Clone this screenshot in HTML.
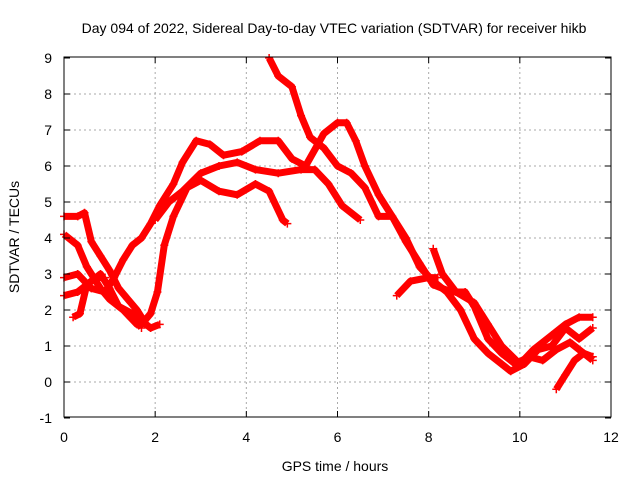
<!DOCTYPE html>
<html><head><meta charset="utf-8"><style>
body{margin:0;background:#fff;}
svg{display:block;font-family:"Liberation Sans",sans-serif;}
</style></head><body>
<svg id="chart" width="640" height="480">
<rect width="640" height="480" fill="#fff"/>
<text x="334" y="33" font-size="14" text-anchor="middle">Day 094 of 2022, Sidereal Day-to-day VTEC variation (SDTVAR) for receiver hikb</text>
<text transform="translate(19,237) rotate(-90)" font-size="14" text-anchor="middle">SDTVAR / TECUs</text>
<text x="335" y="471" font-size="14" text-anchor="middle">GPS time / hours</text>
<g id="grid"></g><g id="series"></g>
<rect x="64" y="57" width="547" height="360" fill="none" stroke="#000" stroke-width="1"/>
<g id="ticks"></g>
</svg>
<script>
const xTicks=[0,2,4,6,8,10,12];
const yTicks=[-1,0,1,2,3,4,5,6,7,8,9];
const s1=[[0,4.6],[0.3,4.6],[0.45,4.7],[0.6,3.9],[0.8,3.5],[1.0,3.1],[1.2,2.6],[1.4,2.3],[1.6,2.0],[1.8,1.6],[1.9,1.5],[2.1,1.6]];
const s2=[[0,4.1],[0.3,3.8],[0.5,3.2],[0.8,2.6],[1.0,2.3],[1.3,2.0],[1.6,1.6],[1.7,1.6],[1.9,1.9],[2.05,2.5],[2.2,3.8],[2.4,4.6],[2.7,5.4],[3.0,5.6],[3.4,5.3],[3.8,5.2],[4.2,5.5],[4.5,5.3],[4.8,4.5],[4.9,4.4]];
const s3=[[0,2.9],[0.3,3.0],[0.6,2.6],[0.9,2.5],[1.1,2.9],[1.3,3.4],[1.5,3.8],[1.7,4.0],[1.9,4.4],[2.1,4.9],[2.4,5.5],[2.6,6.1],[2.9,6.7],[3.2,6.6],[3.5,6.3],[3.9,6.4],[4.3,6.7],[4.7,6.7],[5.0,6.2],[5.3,6.0],[5.7,6.9],[6.0,7.2],[6.2,7.2],[6.4,6.7],[6.6,6.0],[6.9,5.2],[7.2,4.6],[7.5,3.9],[7.8,3.3],[8.1,2.7],[8.5,2.5],[8.8,2.5],[9.0,2.1],[9.3,1.2],[9.6,0.8],[9.9,0.5],[10.2,0.7],[10.5,0.6],[10.8,0.9],[11.1,1.1],[11.4,0.8],[11.6,0.6]];
const s4=[[4.5,9.0],[4.7,8.5],[5.0,8.2],[5.2,7.4],[5.4,6.8],[5.7,6.5],[6.0,6.0],[6.3,5.8],[6.6,5.4],[6.9,4.6],[7.2,4.6],[7.5,4.0],[7.8,3.2],[8.1,2.8],[8.4,2.5],[8.7,2.0],[9.0,1.2],[9.3,0.8],[9.6,0.5],[9.8,0.3],[10.1,0.5],[10.4,0.9],[10.7,1.0],[11.0,1.5],[11.3,1.2],[11.6,1.5]];
const s5=[[0,2.4],[0.3,2.5],[0.6,2.8],[0.8,3.0],[1.0,2.6],[1.2,2.1],[1.5,1.9],[1.7,1.5]];
const s6=[[0.2,1.8],[0.35,1.9],[0.5,2.7],[0.7,2.9],[0.9,2.9]];
const s7=[[2.0,4.5],[2.3,5.0],[2.6,5.3],[3.0,5.8],[3.4,6.0],[3.8,6.1],[4.2,5.9],[4.7,5.8],[5.2,5.9],[5.5,5.9],[5.8,5.5],[6.1,4.9],[6.5,4.5]];
const s8=[[7.3,2.4],[7.6,2.8],[8.0,2.9],[8.2,2.9]];
const s9=[[8.1,3.7],[8.3,3.0],[8.6,2.5],[9.0,2.2],[9.3,1.6],[9.6,1.0],[10.0,0.5],[10.3,0.9],[10.7,1.3],[11.0,1.6],[11.3,1.8],[11.6,1.8]];
const s10=[[10.8,-0.2],[11.0,0.2],[11.2,0.6],[11.4,0.8],[11.6,0.7]];
const allSeries=[s1,s2,s3,s4,s5,s6,s7,s8,s9,s10];
const X=h=>64+h*(547/12);
const Y=v=>382-v*36;
const NS="http://www.w3.org/2000/svg";
const grid=document.getElementById('grid'),ticks=document.getElementById('ticks'),ser=document.getElementById('series');
function mk(t,a,p){const e=document.createElementNS(NS,t);for(const k in a)e.setAttribute(k,a[k]);p.appendChild(e);return e;}
xTicks.forEach(t=>{const x=X(t);
 if(t>0&&t<12){const g=mk('line',{x1:x,y1:57,x2:x,y2:417,stroke:'#aaa','stroke-dasharray':'2,3'},grid);
 
 }
 mk('line',{x1:x,y1:417,x2:x,y2:411,stroke:'#000'},ticks);
 mk('line',{x1:x,y1:57,x2:x,y2:63,stroke:'#000'},ticks);
 const l=mk('text',{x:x,y:442,'font-size':14,'text-anchor':'middle'},ticks);l.textContent=t;
 
 
});
yTicks.forEach(t=>{const y=Y(t);
 if(t>-1&&t<9){const g=mk('line',{x1:64,y1:y,x2:611,y2:y,stroke:'#aaa','stroke-dasharray':'2,3'},grid);
 
 }
 mk('line',{x1:64,y1:y,x2:70,y2:y,stroke:'#000'},ticks);
 mk('line',{x1:611,y1:y,x2:605,y2:y,stroke:'#000'},ticks);
 const l=mk('text',{x:52,y:y+5,'font-size':14,'text-anchor':'end'},ticks);l.textContent=t;
 
 
});
allSeries.forEach((s,i)=>{
 const pl=mk('polyline',{points:s.map(p=>X(p[0])+','+Y(p[1])).join(' '),fill:'none',stroke:'#f00','stroke-width':7,'stroke-linejoin':'round'},ser);
 
 
 s.forEach(p=>{const x=X(p[0]),y=Y(p[1]);
  const m=mk('path',{d:`M${x-4},${y}H${x+4}M${x},${y-4}V${y+4}`,stroke:'#f00','stroke-width':1.5},ser);
  
  
 });
});
</script>
</body></html>
